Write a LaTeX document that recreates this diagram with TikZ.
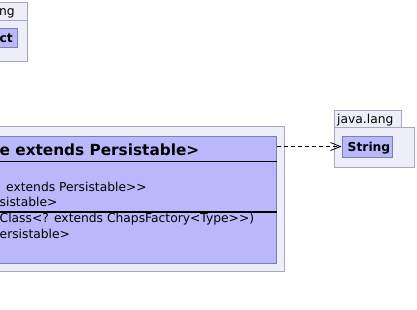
\documentclass[tikz,border=0pt]{standalone}
\usepackage{fontspec}
\setmainfont{DejaVu Sans}
\usetikzlibrary{arrows.meta}

\definecolor{pkgfill}{RGB}{238,238,250}
\definecolor{pkgline}{RGB}{168,168,184}
\definecolor{clsfill}{RGB}{184,184,250}
\definecolor{clsline}{RGB}{128,128,176}

\tikzset{
  pkg/.style={draw=pkgline, fill=pkgfill, line width=1pt},
  cls/.style={draw=clsline, fill=clsfill, line width=1pt, inner sep=0pt},
  txt/.style={anchor=base west, inner sep=0pt, font=\fontsize{12.3}{14}\selectfont},
  bold/.style={txt, font=\fontsize{12.3}{14}\selectfont\bfseries},
  title/.style={txt, font=\fontsize{15.3}{18}\selectfont\bfseries},
  dep/.style={dash pattern=on 4pt off 3pt, line width=0.8pt,
    -{Straight Barb[length=10pt,width=8pt,line width=0.8pt]}}
}

\begin{document}
\begin{tikzpicture}[x=1pt,y=1pt]
\useasboundingbox (0,0) rectangle (417,-309);

% package at the top left, mostly off the page
\draw[pkg] (-80,-2) rectangle (27,-20);
\draw[pkg] (-80,-20) rectangle (27,-61);
\node[txt] (pkgtab) at (-1,-15) {ng};
\node[cls, minimum width=97pt, minimum height=19pt] (obj) at (-31.5,-37.5) {};
\node[bold] (objname) at (-0.5,-42.5) {ct};

% the big package with the factory class
\draw[pkg] (-160,-126) rectangle (284,-271);
\node[cls, minimum width=426pt, minimum height=127pt] (chaps) at (63,-199.5) {};
\draw[line width=1pt] (chaps.west |- 0,-161.5) -- (chaps.east |- 0,-161.5);
\draw[line width=2pt] (chaps.west |- 0,-211.5) -- (chaps.east |- 0,-211.5);
\node[title] (chapsname) at (-0.5,-155) {e extends Persistable>};
% >{}> keeps the two brackets from turning into a guillemet
\node[txt] (attr1) at (6,-191.5) {extends Persistable>{}>};
\node[txt] (attr2) at (-0.5,-206.5) {sistable>};
\node[txt] (op1) at (-0.5,-222.5) {Class<? extends ChapsFactory<Type>{}>)};
\node[txt] (op2) at (-0.5,-238.5) {ersistable>};

% java.lang package on the right
\draw[pkg] (334,-110) rectangle (401,-127);
\draw[pkg] (334,-127) rectangle (414,-167);
\node[txt] (langtab) at (337,-123) {java.lang};
\node[cls, minimum width=50pt, minimum height=21pt] (str) at (367,-146.5) {};
\node[bold] (strname) at (347.5,-151) {String};

% dependency
\draw[dep] (chaps.east |- str.west) -- (str.west);
\end{tikzpicture}
\end{document}
